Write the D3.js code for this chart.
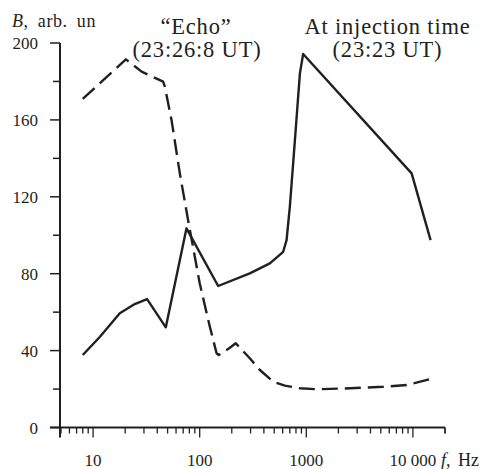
<!DOCTYPE html>
<html>
<head>
<meta charset="utf-8">
<script src="https://cdn.jsdelivr.net/npm/d3@7"></script>
<style>
  body { margin: 0; background: #fff; }
  svg { display: block; font-family: "Liberation Serif", "DejaVu Serif", serif; }
</style>
</head>
<body>
<div id="chart"></div>
<script>
// frequency (Hz) and amplitude B (arb. units)
var injection_f = [8, 11.6, 17.8, 24.6, 32.1, 48.1, 75.2, 149, 295, 455, 607, 653, 701, 782, 871, 934, 9730, 14650];
var injection_b = [37.7, 47.2, 59.4, 64.2, 66.8, 52.1, 103.6, 73.6, 80.2, 85.4, 91.4, 97.5, 114.9, 149.5, 184.2, 194.3, 132.2, 97.5];

var echo_f = [8, 20.3, 28.5, 45.4, 47.1, 54.4, 65.1, 77.8, 100, 124.5, 144, 151, 189, 218, 295, 367, 489, 629, 871, 1247, 2564, 5260, 8730, 14420];
var echo_b = [170.9, 191.5, 185.1, 179.9, 177.3, 160, 132.2, 107.9, 75, 52.4, 38.6, 37.7, 41.2, 43.8, 36, 29.9, 23.8, 21.8, 20.4, 19.9, 20.4, 21.2, 22.1, 25.1];

var y_ticks = [0, 40, 80, 120, 160, 200];
var y_minor = [20, 60, 100, 140, 180];
var x_major = [10, 100, 1000, 10000];
var x_labels = ['10', '100', '1000', '10 000'];

document.addEventListener("DOMContentLoaded", function() {
  var width = 492,
      height = 469,
      ink = '#231f20',
      chart = d3.select('#chart').append('svg')
                .attr('width', width)
                .attr('height', height);

  var x = d3.scaleLog()
    .domain([5, 20000])
    .range([61, 445]);

  var y = d3.scaleLinear()
    .domain([0, 200])
    .range([427.5, 43]);

  // all log ticks 5..20000
  var x_all = [];
  [1, 10, 100, 1000, 10000].forEach(function(dec) {
    for (var k = 1; k <= 9; k++) {
      var v = dec * k;
      if (v >= 5 && v <= 20000) x_all.push(v);
    }
  });
  x_all.push(20000);

  // axes lines
  chart.append('line')
    .attr('x1', 50).attr('x2', x(20000))
    .attr('y1', y(0)).attr('y2', y(0))
    .attr('stroke', ink).attr('stroke-width', 2);

  chart.append('line')
    .attr('x1', 60).attr('x2', 60)
    .attr('y1', y(200)).attr('y2', y(0) + 10)
    .attr('stroke', ink).attr('stroke-width', 2);

  // y ticks
  chart.append('g').selectAll('line')
    .data(y_ticks)
    .enter().append('line')
    .attr('x1', 50).attr('x2', 60)
    .attr('y1', function(d) { return y(d); })
    .attr('y2', function(d) { return y(d); })
    .attr('stroke', ink).attr('stroke-width', 1.5);

  chart.append('g').selectAll('line')
    .data(y_minor)
    .enter().append('line')
    .attr('x1', 53).attr('x2', 60)
    .attr('y1', function(d) { return y(d); })
    .attr('y2', function(d) { return y(d); })
    .attr('stroke', ink).attr('stroke-width', 1.5);

  chart.append('g').selectAll('text')
    .data(y_ticks)
    .enter().append('text')
    .attr('x', 38)
    .attr('y', function(d) { return y(d) + 6; })
    .attr('text-anchor', 'end')
    .attr('font-size', 17)
    .attr('fill', ink)
    .text(function(d) { return d; });

  // x ticks
  chart.append('g').selectAll('line')
    .data(x_all)
    .enter().append('line')
    .attr('x1', function(d) { return x(d); })
    .attr('x2', function(d) { return x(d); })
    .attr('y1', y(0))
    .attr('y2', function(d) { return x_major.indexOf(d) >= 0 ? y(0) + 10 : y(0) + 6; })
    .attr('stroke', ink).attr('stroke-width', 1.3);

  chart.append('g').selectAll('text')
    .data(x_major)
    .enter().append('text')
    .attr('x', function(d) { return x(d); })
    .attr('y', 466)
    .attr('text-anchor', 'middle')
    .attr('font-size', 17)
    .attr('fill', ink)
    .text(function(d, i) { return x_labels[i]; });

  var f_label = chart.append('text')
    .attr('x', 441).attr('y', 466)
    .attr('font-size', 18)
    .attr('fill', ink)
    .attr('word-spacing', 3);
  f_label.append('tspan').attr('font-style', 'italic').text('f');
  f_label.append('tspan').text(', Hz');

  var b_label = chart.append('text')
    .attr('x', 12).attr('y', 26.5)
    .attr('font-size', 18)
    .attr('fill', ink)
    .attr('letter-spacing', 0.6)
    .attr('word-spacing', 4);
  b_label.append('tspan').attr('font-style', 'italic').text('B');
  b_label.append('tspan').text(', arb. un');

  // annotations
  var notes = [
    { t: '\u201cEcho\u201d', cx: 196, by: 33.5 },
    { t: '(23:26:8 UT)', cx: 197, by: 56.5 },
    { t: 'At injection time', cx: 387.5, by: 34 },
    { t: '(23:23 UT)', cx: 387.5, by: 57 }
  ];
  chart.append('g').selectAll('text')
    .data(notes)
    .enter().append('text')
    .attr('x', function(d) { return d.cx; })
    .attr('y', function(d) { return d.by; })
    .attr('text-anchor', 'middle')
    .attr('font-size', 22.5)
    .attr('letter-spacing', 0.8)
    .attr('fill', ink)
    .text(function(d) { return d.t; });

  var line = d3.line()
    .x(function(d) { return x(d[0]); })
    .y(function(d) { return y(d[1]); });

  chart.append('path')
    .datum(d3.zip(echo_f, echo_b))
    .attr('d', line)
    .attr('fill', 'none')
    .attr('stroke', ink)
    .attr('stroke-width', 2.4)
    .attr('stroke-dasharray', '16,7')
    .attr('stroke-linejoin', 'round');

  chart.append('path')
    .datum(d3.zip(injection_f, injection_b))
    .attr('d', line)
    .attr('fill', 'none')
    .attr('stroke', ink)
    .attr('stroke-width', 2.4)
    .attr('stroke-linejoin', 'round');
});
</script>
</body>
</html>
